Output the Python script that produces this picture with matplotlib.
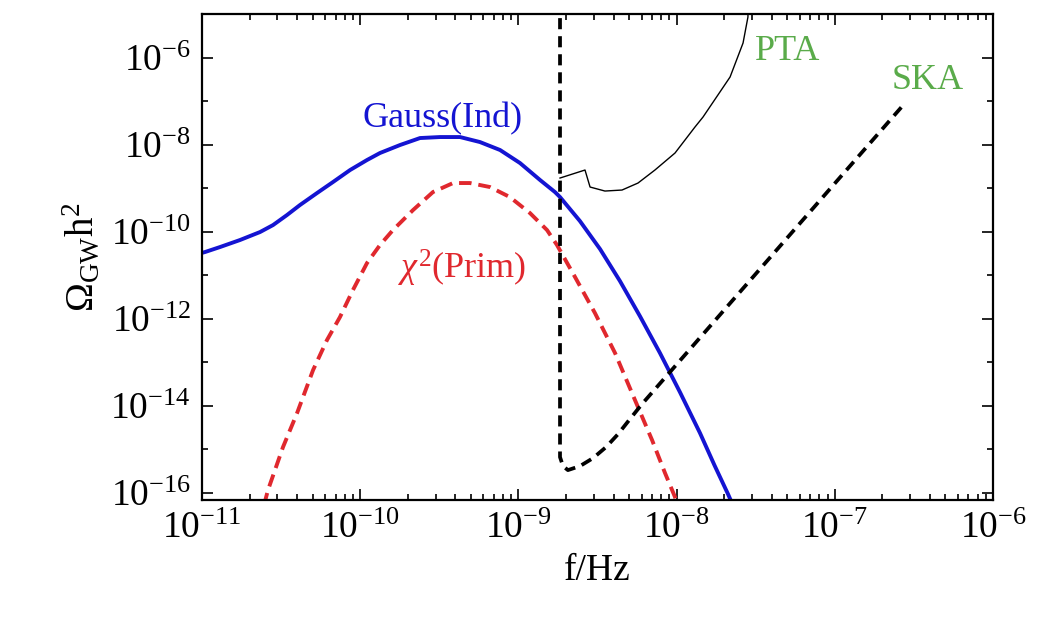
import numpy as np
import matplotlib
matplotlib.use("Agg")
import matplotlib.pyplot as plt
from matplotlib.ticker import FixedLocator, NullFormatter

plt.rcParams['font.family'] = ['Liberation Serif', 'DejaVu Serif']
plt.rcParams['mathtext.fontset'] = 'custom'
plt.rcParams['mathtext.rm'] = 'Liberation Serif'
plt.rcParams['mathtext.it'] = 'Liberation Serif:italic'
plt.rcParams['mathtext.bf'] = 'Liberation Serif:bold'
plt.rcParams['lines.scale_dashes'] = False

# ---- data (log10 values) ----
gauss_logf = [-11.0, -10.981, -10.886, -10.760, -10.633, -10.551, -10.463, -10.381, -10.273,
              -10.172, -10.064, -9.957, -9.875, -9.748, -9.622, -9.496, -9.369, -9.243,
              -9.116, -8.990, -8.863, -8.769, -8.737, -8.611, -8.484, -8.358, -8.232,
              -8.105, -7.979, -7.852, -7.761, -7.675, -7.650]
gauss_logo = [-10.49, -10.471, -10.356, -10.195, -10.011, -9.851, -9.621, -9.391, -9.115,
              -8.862, -8.586, -8.356, -8.195, -8.011, -7.851, -7.828, -7.828, -7.943,
              -8.126, -8.425, -8.816, -9.092, -9.207, -9.759, -10.402, -11.138, -11.943,
              -12.793, -13.690, -14.632, -15.368, -16.034, -16.241]

chi2_logf = [-10.608, -10.583, -10.488, -10.399, -10.298, -10.210, -10.128, -10.046, -9.957,
             -9.875, -9.793, -9.666, -9.540, -9.413, -9.306, -9.180, -9.054, -8.927,
             -8.819, -8.756, -8.642, -8.516, -8.389, -8.263, -8.155, -8.073, -8.010, -7.995]
chi2_logo = [-16.287, -15.943, -14.954, -14.172, -13.184, -12.494, -11.966, -11.345, -10.724,
             -10.310, -9.966, -9.506, -9.092, -8.885, -8.885, -8.977, -9.207, -9.575,
             -9.966, -10.310, -11.046, -11.874, -12.793, -13.874, -14.793, -15.552, -16.103,
             -16.287]

ska_logf = [-8.737, -8.737, -8.718, -8.687, -8.611, -8.528, -8.446, -8.370, -8.295, -8.219,
            -6.556]
ska_logo = [-4.68, -15.184, -15.391, -15.483, -15.391, -15.207, -14.954, -14.655, -14.310,
            -13.966, -7.046]

pta_logf = [-8.737, -8.579, -8.547, -8.453, -8.345, -8.244, -8.137, -8.010, -7.884, -7.833,
            -7.662, -7.580, -7.549, -7.549]
pta_logo = [-8.770, -8.586, -8.977, -9.069, -9.046, -8.885, -8.586, -8.195, -7.598, -7.368,
            -6.448, -5.667, -5.069, -4.68]

xtick_exps = [-11, -10, -9, -8, -7, -6]
ytick_exps = [-16, -14, -12, -10, -8, -6]

labels = {
    'gauss': 'Gauss(Ind)',
    'chi2': r'$\chi^2$(Prim)',
    'pta': 'PTA',
    'ska': 'SKA',
}

BLUE = '#1414d2'
RED = '#e0282e'
GREEN = '#5aab4a'

fig = plt.figure(figsize=(10.55, 6.2), dpi=100)
ax = fig.add_axes([202/1055, 1-500/620, 791/1055, 486/620])

tf = lambda a: 10.0**np.asarray(a)

ax.plot(tf(gauss_logf), tf(gauss_logo), color=BLUE, lw=2.8, solid_joinstyle='round')
ax.plot(tf(chi2_logf), tf(chi2_logo), color=RED, lw=2.8, dashes=(9, 5))
ax.plot(tf(ska_logf), tf(ska_logo), color='black', lw=2.7, dashes=(8, 5))
ax.plot(tf(pta_logf), tf(pta_logo), color='black', lw=1.0)

ax.set_xscale('log')
ax.set_yscale('log')
ax.set_xlim(1e-11, 1e-6)
ax.set_ylim(10**-16.17, 1e-5)

ax.xaxis.set_major_locator(FixedLocator(tf(xtick_exps)))
ax.set_xticklabels([r'$10^{%d}$' % e for e in xtick_exps])
ax.yaxis.set_major_locator(FixedLocator(tf(ytick_exps)))
ax.set_yticklabels([r'$10^{%d}$' % e for e in ytick_exps])

xminor = [m * 10.0**e for e in range(-11, -6) for m in range(2, 10)]
ax.xaxis.set_minor_locator(FixedLocator(xminor))
yminor = [10.0**e for e in range(-16, -4) if e % 2 != 0]
ax.yaxis.set_minor_locator(FixedLocator(yminor))
ax.xaxis.set_minor_formatter(NullFormatter())
ax.yaxis.set_minor_formatter(NullFormatter())

ax.tick_params(which='both', direction='in', top=True, right=True, width=1.2)
ax.tick_params(which='major', length=8, labelsize=27, pad=8)
ax.tick_params(which='minor', length=4)
for s in ax.spines.values():
    s.set_linewidth(1.6)

ax.set_xlabel('f/Hz', fontsize=27, labelpad=6)
ax.set_ylabel(r'$\Omega_{\mathrm{GW}}\mathrm{h}^2$', fontsize=28, labelpad=6)

ax.text(10**-9.477, 10**-7.40, labels['gauss'], color=BLUE, fontsize=26, ha='center', va='center')
ax.text(10**-9.356, 10**-10.84, labels['chi2'], color=RED, fontsize=26, ha='center', va='center')
ax.text(10**-7.30, 10**-5.87, labels['pta'], color=GREEN, fontsize=26, ha='center', va='center')
ax.text(10**-6.41, 10**-6.52, labels['ska'], color=GREEN, fontsize=26, ha='center', va='center')

fig.savefig('out.png', dpi=100)
